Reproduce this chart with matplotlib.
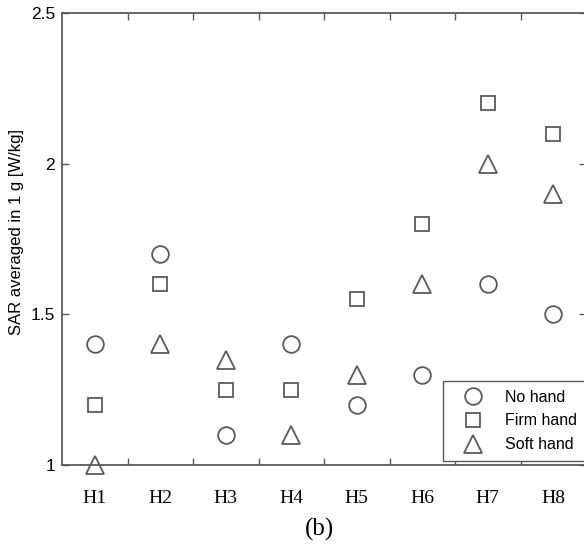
import matplotlib.pyplot as plt

hands = ['H1', 'H2', 'H3', 'H4', 'H5', 'H6', 'H7', 'H8']
no_hand = [1.4, 1.7, 1.1, 1.4, 1.2, 1.3, 1.6, 1.5]
firm_hand = [1.2, 1.6, 1.25, 1.25, 1.55, 1.8, 2.2, 2.1]
soft_hand = [1.0, 1.4, 1.35, 1.1, 1.3, 1.6, 2.0, 1.9]

gray = '#5a5a5a'
x = list(range(1, len(hands) + 1))

fig = plt.figure(figsize=(5.84, 5.48), dpi=100)
# axes run slightly past the right edge, as in the cropped original
ax = fig.add_axes([62 / 584, 83 / 548, 524 / 584, 452 / 548])

style = dict(linestyle='none', markerfacecolor='none', markeredgecolor=gray,
             markeredgewidth=1.3, clip_on=False)
ax.plot(x, no_hand, marker='o', markersize=12, label='No hand', **style)
ax.plot(x, firm_hand, marker='s', markersize=10.5, label='Firm hand', **style)
ax.plot(x, soft_hand, marker='^', markersize=13, label='Soft hand', **style)

ax.set_xlim(0.5, 8.5)
ax.set_ylim(1, 2.5)
ax.set_xticks(x)
ax.set_xticklabels(hands, family='Liberation Serif', fontsize=14)
ax.set_xticks([i + 0.5 for i in x[:-1]], minor=True)
ax.tick_params(axis='x', which='major', length=0, pad=18)
ax.tick_params(axis='x', which='minor', direction='in', length=5,
               top=True, width=1, color=gray)
ax.set_yticks([1, 1.5, 2, 2.5])
ax.set_yticklabels(['1', '1.5', '2', '2.5'], family='Liberation Sans')
ax.tick_params(axis='y', direction='in', length=5, right=True, width=1,
               color=gray, labelsize=12.5, pad=5)
for s in ax.spines.values():
    s.set_color(gray)
    s.set_linewidth(1.3)

ax.set_ylabel('SAR averaged in 1 g [W/kg]', family='Liberation Sans',
              fontsize=12)
ax.yaxis.set_label_coords(-0.072, 0.515)

leg = ax.legend(loc='lower left', bbox_to_anchor=(381 / 524, 0.009),
                borderaxespad=0, fancybox=False, edgecolor=gray, framealpha=1,
                prop={'family': 'Liberation Sans', 'size': 11.5},
                handlelength=2.6, handletextpad=0.75, borderpad=0.55,
                labelspacing=0.55)
leg.get_frame().set_linewidth(1.0)

fig.text(320 / 584, 1 - 529 / 548, '(b)', family='Liberation Serif',
         fontsize=18, ha='center', va='center')

fig.savefig('out.png', dpi=100)
